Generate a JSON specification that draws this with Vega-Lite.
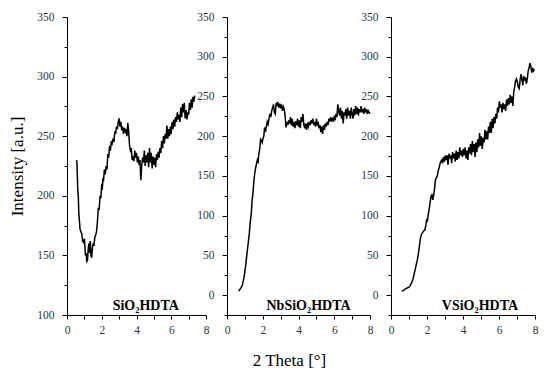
{
  "$schema": "https://vega.github.io/schema/vega-lite/v6.json",
  "padding": {"left": 8, "top": 11, "right": 5, "bottom": 5},
  "background": "white",
  "config": {
    "view": {"stroke": null},
    "line": {"color": "black", "strokeWidth": 1.5},
    "axis": {
      "grid": false,
      "domainColor": "black",
      "domainWidth": 1,
      "tickColor": "black",
      "tickWidth": 1,
      "labelFont": "Liberation Serif",
      "labelFontSize": 11.5,
      "labelColor": "#333333",
      "labelFlush": false,
      "titleFont": "Liberation Serif",
      "titleFontSize": 17,
      "titleFontWeight": "normal",
      "titleColor": "black"
    }
  },
  "datasets": {
    "p1": [
      {"x":0.55,"y":230},{"x":0.57,"y":228},{"x":0.6,"y":215},{"x":0.62,"y":205},{"x":0.65,"y":200},{"x":0.68,"y":185},{"x":0.72,"y":178},{"x":0.75,"y":172},{"x":0.8,"y":170},{"x":0.85,"y":168},{"x":0.9,"y":162},{"x":0.95,"y":161},{"x":1.0,"y":164},{"x":1.03,"y":158},{"x":1.06,"y":150},{"x":1.1,"y":152},{"x":1.14,"y":145},{"x":1.18,"y":146},{"x":1.22,"y":155},{"x":1.26,"y":160},{"x":1.3,"y":152},{"x":1.34,"y":162},{"x":1.38,"y":150},{"x":1.42,"y":148},{"x":1.46,"y":156},{"x":1.5,"y":160},{"x":1.55,"y":158},{"x":1.6,"y":165},{"x":1.65,"y":167},{"x":1.7,"y":170},{"x":1.75,"y":178},{"x":1.8,"y":190},{"x":1.85,"y":188},{"x":1.9,"y":200},{"x":1.95,"y":198},{"x":2.0,"y":210},{"x":2.03,"y":205},{"x":2.07,"y":215},{"x":2.1,"y":212},{"x":2.15,"y":222},{"x":2.2,"y":218},{"x":2.25,"y":225},{"x":2.3,"y":222},{"x":2.35,"y":235},{"x":2.4,"y":232},{"x":2.45,"y":242},{"x":2.5,"y":238},{"x":2.55,"y":246},{"x":2.6,"y":244},{"x":2.65,"y":248},{"x":2.7,"y":245},{"x":2.75,"y":254},{"x":2.8,"y":252},{"x":2.85,"y":258},{"x":2.9,"y":256},{"x":2.95,"y":262},{"x":3.0,"y":265},{"x":3.05,"y":258},{"x":3.1,"y":262},{"x":3.15,"y":255},{"x":3.2,"y":258},{"x":3.25,"y":252},{"x":3.3,"y":257},{"x":3.35,"y":254},{"x":3.4,"y":256},{"x":3.45,"y":250},{"x":3.5,"y":261},{"x":3.55,"y":254},{"x":3.6,"y":242},{"x":3.65,"y":238},{"x":3.7,"y":240},{"x":3.75,"y":230},{"x":3.8,"y":233},{"x":3.85,"y":229},{"x":3.9,"y":238},{"x":3.95,"y":232},{"x":4.0,"y":236},{"x":4.05,"y":228},{"x":4.1,"y":233},{"x":4.15,"y":226},{"x":4.2,"y":230},{"x":4.25,"y":213},{"x":4.3,"y":225},{"x":4.35,"y":232},{"x":4.4,"y":228},{"x":4.45,"y":238},{"x":4.5,"y":225},{"x":4.55,"y":234},{"x":4.6,"y":228},{"x":4.65,"y":236},{"x":4.7,"y":224},{"x":4.75,"y":240},{"x":4.8,"y":228},{"x":4.85,"y":236},{"x":4.9,"y":223},{"x":4.95,"y":233},{"x":5.0,"y":226},{"x":5.05,"y":232},{"x":5.1,"y":224},{"x":5.15,"y":235},{"x":5.2,"y":230},{"x":5.25,"y":237},{"x":5.3,"y":232},{"x":5.35,"y":240},{"x":5.4,"y":236},{"x":5.45,"y":246},{"x":5.5,"y":240},{"x":5.55,"y":250},{"x":5.6,"y":244},{"x":5.65,"y":252},{"x":5.7,"y":248},{"x":5.75,"y":259},{"x":5.8,"y":248},{"x":5.85,"y":256},{"x":5.9,"y":250},{"x":5.95,"y":258},{"x":6.0,"y":252},{"x":6.05,"y":262},{"x":6.1,"y":256},{"x":6.15,"y":264},{"x":6.2,"y":258},{"x":6.25,"y":266},{"x":6.3,"y":262},{"x":6.35,"y":270},{"x":6.4,"y":264},{"x":6.45,"y":268},{"x":6.5,"y":262},{"x":6.55,"y":274},{"x":6.6,"y":266},{"x":6.65,"y":277},{"x":6.7,"y":270},{"x":6.75,"y":278},{"x":6.8,"y":265},{"x":6.85,"y":272},{"x":6.9,"y":264},{"x":6.95,"y":270},{"x":7.0,"y":268},{"x":7.05,"y":278},{"x":7.1,"y":272},{"x":7.15,"y":281},{"x":7.2,"y":274},{"x":7.25,"y":283},{"x":7.3,"y":279},{"x":7.35,"y":284}
    ],
    "p2": [
      {"x":0.65,"y":5},{"x":0.75,"y":8},{"x":0.85,"y":12},{"x":0.95,"y":22},{"x":1.05,"y":38},{"x":1.12,"y":53},{"x":1.2,"y":68},{"x":1.25,"y":78},{"x":1.3,"y":92},{"x":1.36,"y":103},{"x":1.4,"y":118},{"x":1.45,"y":128},{"x":1.5,"y":142},{"x":1.55,"y":153},{"x":1.6,"y":160},{"x":1.65,"y":165},{"x":1.7,"y":170},{"x":1.74,"y":168},{"x":1.78,"y":178},{"x":1.83,"y":184},{"x":1.88,"y":196},{"x":1.92,"y":195},{"x":1.97,"y":192},{"x":2.02,"y":198},{"x":2.06,"y":200},{"x":2.1,"y":211},{"x":2.15,"y":205},{"x":2.2,"y":212},{"x":2.25,"y":218},{"x":2.3,"y":215},{"x":2.35,"y":222},{"x":2.4,"y":228},{"x":2.45,"y":224},{"x":2.5,"y":232},{"x":2.55,"y":236},{"x":2.6,"y":240},{"x":2.65,"y":230},{"x":2.7,"y":228},{"x":2.75,"y":242},{"x":2.8,"y":238},{"x":2.85,"y":243},{"x":2.9,"y":236},{"x":2.95,"y":241},{"x":3.0,"y":235},{"x":3.05,"y":240},{"x":3.1,"y":232},{"x":3.15,"y":237},{"x":3.2,"y":234},{"x":3.25,"y":226},{"x":3.3,"y":211},{"x":3.35,"y":218},{"x":3.4,"y":214},{"x":3.45,"y":220},{"x":3.5,"y":216},{"x":3.55,"y":224},{"x":3.6,"y":214},{"x":3.65,"y":222},{"x":3.7,"y":212},{"x":3.75,"y":218},{"x":3.8,"y":210},{"x":3.85,"y":219},{"x":3.9,"y":214},{"x":3.95,"y":222},{"x":4.0,"y":212},{"x":4.05,"y":220},{"x":4.1,"y":210},{"x":4.15,"y":224},{"x":4.2,"y":218},{"x":4.25,"y":228},{"x":4.3,"y":214},{"x":4.35,"y":210},{"x":4.4,"y":216},{"x":4.45,"y":208},{"x":4.5,"y":215},{"x":4.55,"y":212},{"x":4.6,"y":218},{"x":4.65,"y":214},{"x":4.7,"y":220},{"x":4.75,"y":216},{"x":4.8,"y":222},{"x":4.85,"y":214},{"x":4.9,"y":218},{"x":4.95,"y":212},{"x":5.0,"y":222},{"x":5.05,"y":215},{"x":5.1,"y":218},{"x":5.15,"y":210},{"x":5.2,"y":214},{"x":5.25,"y":205},{"x":5.3,"y":212},{"x":5.35,"y":203},{"x":5.4,"y":214},{"x":5.45,"y":208},{"x":5.5,"y":216},{"x":5.55,"y":212},{"x":5.6,"y":218},{"x":5.65,"y":214},{"x":5.7,"y":222},{"x":5.75,"y":218},{"x":5.8,"y":224},{"x":5.85,"y":220},{"x":5.9,"y":222},{"x":5.95,"y":218},{"x":6.0,"y":226},{"x":6.05,"y":220},{"x":6.1,"y":228},{"x":6.15,"y":224},{"x":6.2,"y":240},{"x":6.25,"y":232},{"x":6.3,"y":226},{"x":6.35,"y":236},{"x":6.4,"y":222},{"x":6.45,"y":232},{"x":6.5,"y":216},{"x":6.55,"y":230},{"x":6.6,"y":226},{"x":6.65,"y":234},{"x":6.7,"y":222},{"x":6.75,"y":236},{"x":6.8,"y":226},{"x":6.85,"y":232},{"x":6.9,"y":222},{"x":6.95,"y":236},{"x":7.0,"y":228},{"x":7.05,"y":222},{"x":7.1,"y":234},{"x":7.15,"y":226},{"x":7.2,"y":238},{"x":7.25,"y":228},{"x":7.3,"y":236},{"x":7.35,"y":226},{"x":7.4,"y":234},{"x":7.45,"y":230},{"x":7.5,"y":238},{"x":7.55,"y":230},{"x":7.6,"y":234},{"x":7.65,"y":228},{"x":7.7,"y":236},{"x":7.75,"y":230},{"x":7.8,"y":234},{"x":7.85,"y":228},{"x":7.9,"y":232},{"x":7.95,"y":230},{"x":8.0,"y":228}
    ],
    "p3": [
      {"x":0.6,"y":5},{"x":0.7,"y":6},{"x":0.8,"y":8},{"x":0.9,"y":9},{"x":1.0,"y":10},{"x":1.07,"y":12},{"x":1.15,"y":16},{"x":1.22,"y":20},{"x":1.28,"y":26},{"x":1.34,"y":32},{"x":1.4,"y":38},{"x":1.46,"y":44},{"x":1.52,"y":52},{"x":1.58,"y":62},{"x":1.64,"y":72},{"x":1.7,"y":77},{"x":1.76,"y":79},{"x":1.82,"y":81},{"x":1.88,"y":82},{"x":1.94,"y":88},{"x":1.98,"y":96},{"x":2.02,"y":92},{"x":2.07,"y":102},{"x":2.12,"y":108},{"x":2.17,"y":116},{"x":2.22,"y":124},{"x":2.27,"y":126},{"x":2.32,"y":120},{"x":2.37,"y":126},{"x":2.42,"y":134},{"x":2.47,"y":145},{"x":2.52,"y":148},{"x":2.57,"y":150},{"x":2.62,"y":156},{"x":2.67,"y":160},{"x":2.72,"y":165},{"x":2.77,"y":168},{"x":2.82,"y":170},{"x":2.87,"y":166},{"x":2.92,"y":174},{"x":2.97,"y":168},{"x":3.02,"y":176},{"x":3.07,"y":170},{"x":3.12,"y":176},{"x":3.17,"y":164},{"x":3.22,"y":178},{"x":3.27,"y":172},{"x":3.32,"y":176},{"x":3.37,"y":166},{"x":3.42,"y":180},{"x":3.47,"y":172},{"x":3.52,"y":178},{"x":3.57,"y":168},{"x":3.62,"y":182},{"x":3.67,"y":170},{"x":3.72,"y":180},{"x":3.77,"y":172},{"x":3.82,"y":186},{"x":3.87,"y":176},{"x":3.92,"y":182},{"x":3.97,"y":174},{"x":4.02,"y":184},{"x":4.07,"y":176},{"x":4.12,"y":186},{"x":4.17,"y":172},{"x":4.22,"y":182},{"x":4.27,"y":170},{"x":4.32,"y":186},{"x":4.37,"y":178},{"x":4.42,"y":190},{"x":4.47,"y":176},{"x":4.52,"y":194},{"x":4.57,"y":180},{"x":4.62,"y":190},{"x":4.67,"y":174},{"x":4.72,"y":192},{"x":4.77,"y":180},{"x":4.82,"y":196},{"x":4.87,"y":186},{"x":4.92,"y":204},{"x":4.97,"y":188},{"x":5.02,"y":200},{"x":5.07,"y":184},{"x":5.12,"y":198},{"x":5.17,"y":192},{"x":5.22,"y":208},{"x":5.27,"y":196},{"x":5.32,"y":206},{"x":5.37,"y":196},{"x":5.42,"y":212},{"x":5.47,"y":204},{"x":5.52,"y":218},{"x":5.57,"y":204},{"x":5.62,"y":222},{"x":5.67,"y":210},{"x":5.72,"y":224},{"x":5.77,"y":216},{"x":5.82,"y":228},{"x":5.87,"y":222},{"x":5.92,"y":236},{"x":5.97,"y":230},{"x":6.02,"y":244},{"x":6.07,"y":236},{"x":6.12,"y":240},{"x":6.17,"y":230},{"x":6.22,"y":242},{"x":6.27,"y":234},{"x":6.32,"y":240},{"x":6.37,"y":232},{"x":6.42,"y":246},{"x":6.47,"y":238},{"x":6.52,"y":248},{"x":6.57,"y":240},{"x":6.62,"y":252},{"x":6.67,"y":242},{"x":6.72,"y":250},{"x":6.77,"y":238},{"x":6.82,"y":256},{"x":6.87,"y":262},{"x":6.92,"y":270},{"x":6.97,"y":272},{"x":7.02,"y":268},{"x":7.07,"y":262},{"x":7.12,"y":260},{"x":7.17,"y":270},{"x":7.22,"y":278},{"x":7.27,"y":272},{"x":7.32,"y":264},{"x":7.37,"y":276},{"x":7.42,"y":270},{"x":7.47,"y":274},{"x":7.52,"y":266},{"x":7.57,"y":272},{"x":7.62,"y":282},{"x":7.67,"y":286},{"x":7.72,"y":292},{"x":7.77,"y":288},{"x":7.82,"y":280},{"x":7.87,"y":286},{"x":7.92,"y":282},{"x":7.97,"y":284}
    ]
  },
  "bounds": "flush",
  "spacing": 21,
  "resolve": {"scale": {"x": "independent", "y": "independent"}, "axis": {"x": "independent", "y": "independent"}},
  "hconcat": [
    {
      "width": 139,
      "height": 298,
      "resolve": {"axis": {"x": "independent", "y": "independent"}},
      "layer": [
        {
          "data": {"name": "p1"},
          "mark": {"type": "line"},
          "encoding": {
            "x": {"field": "x", "type": "quantitative", "scale": {"domain": [0, 8], "nice": false},
                  "axis": {"title": null, "orient": "bottom", "values": [0,2,4,6,8], "tickSize": 4, "labelPadding": 5}},
            "y": {"field": "y", "type": "quantitative", "scale": {"domain": [100, 350], "nice": false, "zero": false},
                  "axis": {"title": "Intensity [a.u.]", "orient": "left", "titlePadding": 10, "values": [100,150,200,250,300,350], "tickSize": 5, "labelPadding": 8}}
          }
        },
        {
          "data": {"values": [{}]},
          "mark": {"type": "text", "font": "Liberation Serif", "fontWeight": "bold", "fontSize": 14, "align": "center", "baseline": "alphabetic", "color": "black"},
          "encoding": {
            "x": {"datum": 4.53, "type": "quantitative", "axis": {"title": null, "orient": "bottom", "values": [1,3,5,7], "labels": false, "domain": false, "tickSize": 4}},
            "y": {"datum": 104, "type": "quantitative", "axis": {"title": null, "orient": "left", "values": [125,175,225,275,325], "labels": false, "domain": false, "tickSize": 3}},
            "text": {"value": "SiO₂HDTA"}
          }
        }
      ]
    },
    {
      "width": 143,
      "height": 298,
      "resolve": {"axis": {"x": "independent", "y": "independent"}},
      "layer": [
        {
          "data": {"name": "p2"},
          "mark": {"type": "line"},
          "encoding": {
            "x": {"field": "x", "type": "quantitative", "scale": {"domain": [0, 8], "nice": false},
                  "axis": {"title": "2 Theta [°]", "orient": "bottom", "titleX": 62, "titleY": 50, "titleAlign": "center", "titleBaseline": "alphabetic", "values": [0,2,4,6,8], "tickSize": 4, "labelPadding": 5}},
            "y": {"field": "y", "type": "quantitative", "scale": {"domain": [-25, 350], "nice": false, "zero": false},
                  "axis": {"title": null, "orient": "left", "values": [0,50,100,150,200,250,300,350], "tickSize": 5, "labelPadding": 8}}
          }
        },
        {
          "data": {"values": [{}]},
          "mark": {"type": "text", "font": "Liberation Serif", "fontWeight": "bold", "fontSize": 14, "align": "center", "baseline": "alphabetic", "color": "black"},
          "encoding": {
            "x": {"datum": 4.56, "type": "quantitative", "axis": {"title": null, "orient": "bottom", "values": [1,3,5,7], "labels": false, "domain": false, "tickSize": 4}},
            "y": {"datum": -18.5, "type": "quantitative", "axis": {"title": null, "orient": "left", "values": [-25,25,75,125,175,225,275,325], "labels": false, "domain": false, "tickSize": 3}},
            "text": {"value": "NbSiO₂HDTA"}
          }
        }
      ]
    },
    {
      "width": 144,
      "height": 298,
      "resolve": {"axis": {"x": "independent", "y": "independent"}},
      "layer": [
        {
          "data": {"name": "p3"},
          "mark": {"type": "line"},
          "encoding": {
            "x": {"field": "x", "type": "quantitative", "scale": {"domain": [0, 8], "nice": false},
                  "axis": {"title": null, "orient": "bottom", "values": [0,2,4,6,8], "tickSize": 4, "labelPadding": 5}},
            "y": {"field": "y", "type": "quantitative", "scale": {"domain": [-25, 350], "nice": false, "zero": false},
                  "axis": {"title": null, "orient": "left", "values": [0,50,100,150,200,250,300,350], "tickSize": 5, "labelPadding": 8}}
          }
        },
        {
          "data": {"values": [{}]},
          "mark": {"type": "text", "font": "Liberation Serif", "fontWeight": "bold", "fontSize": 14, "align": "center", "baseline": "alphabetic", "color": "black"},
          "encoding": {
            "x": {"datum": 4.94, "type": "quantitative", "axis": {"title": null, "orient": "bottom", "values": [1,3,5,7], "labels": false, "domain": false, "tickSize": 4}},
            "y": {"datum": -18.7, "type": "quantitative", "axis": {"title": null, "orient": "left", "values": [-25,25,75,125,175,225,275,325], "labels": false, "domain": false, "tickSize": 3}},
            "text": {"value": "VSiO₂HDTA"}
          }
        }
      ]
    }
  ]
}
